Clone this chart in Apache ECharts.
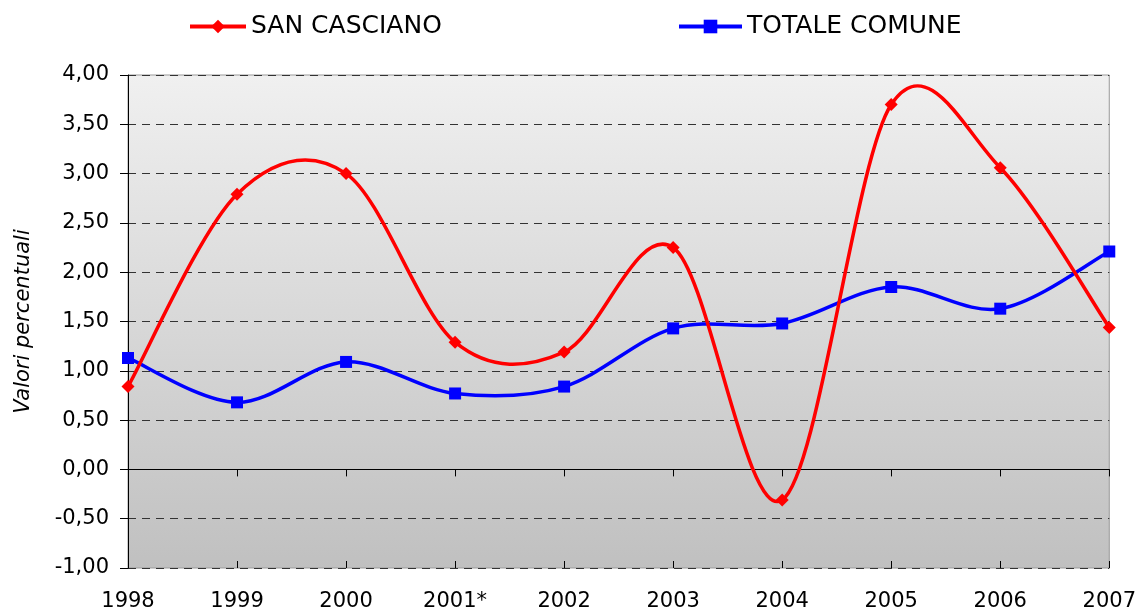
<!DOCTYPE html>
<html>
<head>
<meta charset="utf-8">
<script src="https://cdn.jsdelivr.net/npm/echarts@6/dist/echarts.min.js"></script>
<style>
  html, body { margin: 0; padding: 0; background: #fff; }
  #chart { width: 1139px; height: 613px; }
</style>
</head>
<body>
<div id="chart"></div>
<script>
'use strict'

const years = ['1998', '1999', '2000', '2001*', '2002', '2003', '2004', '2005', '2006', '2007'];
const sanCasciano = [0.84, 2.79, 3.00, 1.29, 1.19, 2.25, -0.31, 3.70, 3.06, 1.44];
const totaleComune = [1.13, 0.68, 1.09, 0.77, 0.84, 1.43, 1.48, 1.85, 1.63, 2.21];

const FONT = '"DejaVu Sans", Verdana, sans-serif';

function fmt(v) {
  return v.toFixed(2).replace('.', ',');
}

// excel-like smoothed line: one bezier segment per point, catmull-rom control points
function smoothSegment(values, color) {
  return function (params, api) {
    const i = params.dataIndex;
    const n = values.length;
    if (i >= n - 1) return null;
    const pt = (k) => {
      k = Math.max(0, Math.min(n - 1, k));
      return api.coord([k, values[k]]);
    };
    const p0 = pt(i - 1), p1 = pt(i), p2 = pt(i + 1), p3 = pt(i + 2);
    return {
      type: 'bezierCurve',
      shape: {
        x1: p1[0], y1: p1[1],
        x2: p2[0], y2: p2[1],
        cpx1: p1[0] + (p2[0] - p0[0]) / 6,
        cpy1: p1[1] + (p2[1] - p0[1]) / 6,
        cpx2: p2[0] - (p3[0] - p1[0]) / 6,
        cpy2: p2[1] - (p3[1] - p1[1]) / 6
      },
      style: {stroke: color, lineWidth: 3.5, fill: null, lineCap: 'round'}
    };
  };
}

const chart = echarts.init(document.getElementById('chart'));

const legendBase = {
  top: 9,
  itemHeight: 17,
  itemGap: 4,
  lineStyle: {opacity: 1, width: 4},
  textStyle: {fontFamily: FONT, fontSize: 25, color: '#000'}
};

chart.setOption({
  animation: false,
  backgroundColor: '#fff',
  legend: [
    Object.assign({}, legendBase, {left: 183, itemWidth: 56, data: ['SAN CASCIANO']}),
    Object.assign({}, legendBase, {left: 672, itemWidth: 63, data: ['TOTALE COMUNE']})
  ],
  grid: {
    left: 128, right: 29, top: 75, bottom: 45,
    show: true,
    borderColor: '#999',
    borderWidth: 1,
    backgroundColor: new echarts.graphic.LinearGradient(0, 0, 0, 1, [
      {offset: 0, color: '#f0f0f0'},
      {offset: 1, color: '#c0c0c0'}
    ])
  },
  xAxis: [
    {
      type: 'category',
      data: years,
      boundaryGap: false,
      position: 'bottom',
      axisLine: {show: false, onZero: false},
      axisTick: {show: false},
      axisLabel: {margin: 23, fontFamily: FONT, fontSize: 21, color: '#000', interval: 0}
    },
    {
      type: 'category',
      data: years,
      boundaryGap: false,
      position: 'bottom',
      axisLine: {show: true, onZero: true, lineStyle: {color: '#000', width: 1}},
      axisTick: {show: true, length: 7, inside: false, lineStyle: {color: '#000'}, interval: 0},
      axisLabel: {show: false}
    },
    {
      type: 'category',
      data: years,
      boundaryGap: false,
      position: 'bottom',
      axisLine: {show: false, onZero: true},
      axisTick: {show: true, length: 7, inside: true, lineStyle: {color: '#000'}, interval: 0},
      axisLabel: {show: false}
    }
  ],
  yAxis: {
    type: 'value',
    min: -1,
    max: 4,
    interval: 0.5,
    name: 'Valori percentuali',
    nameLocation: 'middle',
    nameGap: 94,
    nameTextStyle: {fontFamily: FONT, fontSize: 21, fontStyle: 'italic', color: '#000'},
    axisLine: {show: true, lineStyle: {color: '#000', width: 1}},
    axisTick: {show: true, length: 8, lineStyle: {color: '#000'}},
    axisLabel: {margin: 19, fontFamily: FONT, fontSize: 21, color: '#000', formatter: fmt},
    splitLine: {show: true, lineStyle: {color: '#333', type: [8, 6], width: 1}}
  },
  series: [
    {
      type: 'custom',
      xAxisIndex: 0,
      data: sanCasciano.map((v, i) => [i, v]),
      renderItem: smoothSegment(sanCasciano, '#ff0000'),
      silent: true,
      z: 3
    },
    {
      type: 'custom',
      xAxisIndex: 0,
      data: totaleComune.map((v, i) => [i, v]),
      renderItem: smoothSegment(totaleComune, '#0000ff'),
      silent: true,
      z: 2
    },
    {
      name: 'SAN CASCIANO',
      type: 'line',
      xAxisIndex: 0,
      data: sanCasciano,
      symbol: 'diamond',
      symbolSize: 13,
      lineStyle: {color: '#ff0000', width: 4, opacity: 0},
      itemStyle: {color: '#ff0000'},
      z: 5
    },
    {
      name: 'TOTALE COMUNE',
      type: 'line',
      xAxisIndex: 0,
      data: totaleComune,
      symbol: 'rect',
      symbolSize: 12,
      lineStyle: {color: '#0000ff', width: 4, opacity: 0},
      itemStyle: {color: '#0000ff'},
      z: 4
    }
  ]
});
</script>
</body>
</html>
